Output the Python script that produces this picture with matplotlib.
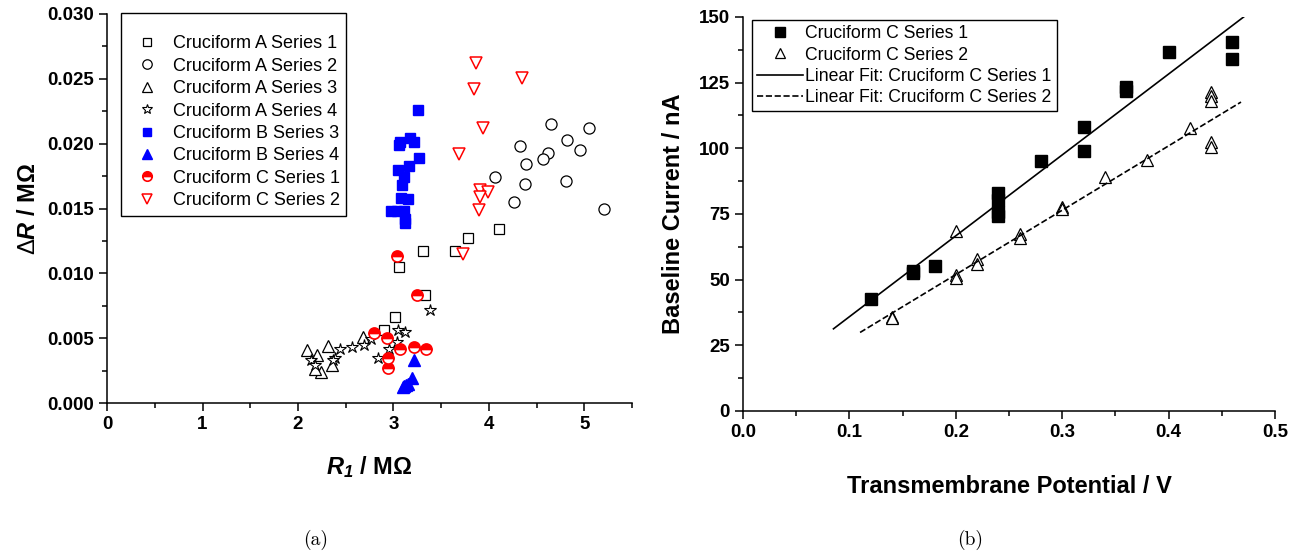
import matplotlib
matplotlib.use("Agg")
import matplotlib.pyplot as plt
from matplotlib.ticker import MultipleLocator, FormatStrFormatter
import numpy as np

plt.rcParams.update({
    "font.family": "Liberation Sans",
    "mathtext.fontset": "custom",
    "mathtext.rm": "Liberation Sans",
    "mathtext.it": "Liberation Sans:italic:bold",
    "mathtext.bf": "Liberation Sans:italic:bold",
    "axes.linewidth": 1.1,
})

# ---- panel (a): delta R vs R1 ----
a_s1_x = [3.31, 3.64, 3.78, 4.10, 3.06, 3.33, 3.02, 2.90]
a_s1_y = [0.0117, 0.0117, 0.0127, 0.0134, 0.0105, 0.0083, 0.0066, 0.0056]

a_s2_x = [4.65, 5.05, 4.82, 4.95, 4.32, 4.62, 4.57, 4.39, 4.06, 4.38, 4.81, 4.26, 5.20]
a_s2_y = [0.0215, 0.0212, 0.0203, 0.0195, 0.0198, 0.0193, 0.0188, 0.0184,
          0.0174, 0.0169, 0.0171, 0.0155, 0.0150]

a_s3_x = [2.09, 2.20, 2.31, 2.68, 2.36, 2.24, 2.18]
a_s3_y = [0.0041, 0.0037, 0.0044, 0.0051, 0.0029, 0.0024, 0.0026]

a_s4_x = [2.14, 2.18, 2.39, 2.44, 2.57, 2.69, 2.76, 2.84, 2.95, 3.04, 3.05, 3.12, 3.38, 2.37]
a_s4_y = [0.0033, 0.0029, 0.0035, 0.0042, 0.0043, 0.0045, 0.0049, 0.0035,
          0.0042, 0.0047, 0.0056, 0.0055, 0.0072, 0.0033]

b_s3_x = [3.26, 3.06, 3.07, 3.17, 3.21, 3.27, 3.16, 3.05, 3.11, 3.09, 3.08, 3.15,
          2.97, 3.04, 3.11, 3.12, 3.12]
b_s3_y = [0.0226, 0.0199, 0.0201, 0.0204, 0.0201, 0.0189, 0.0183, 0.0180, 0.0174,
          0.0168, 0.0158, 0.0157, 0.0148, 0.0148, 0.0148, 0.0142, 0.0139]

b_s4_x = [3.21, 3.19, 3.15, 3.11, 3.10, 3.13]
b_s4_y = [0.0033, 0.0019, 0.0015, 0.0013, 0.0012, 0.0014]

c_s1_x = [3.04, 3.25, 2.80, 2.93, 3.07, 3.22, 3.34, 2.94, 2.94]
c_s1_y = [0.0113, 0.0083, 0.0054, 0.0050, 0.0042, 0.0043, 0.0042, 0.0035, 0.0027]

c_s2_x = [3.86, 4.35, 3.84, 3.94, 3.69, 3.91, 3.99, 3.91, 3.90, 3.73]
c_s2_y = [0.0262, 0.0251, 0.0242, 0.0212, 0.0192, 0.0164, 0.0163, 0.0159, 0.0149, 0.0115]

# ---- panel (b): baseline current vs potential ----
cur1_v = [0.12, 0.16, 0.16, 0.18, 0.24, 0.24, 0.24, 0.24, 0.28, 0.32, 0.32,
          0.36, 0.36, 0.40, 0.46, 0.46]
cur1_i = [42.7, 52.6, 53.2, 55.2, 83.0, 80.5, 74.4, 75.6, 95.1, 108.3, 98.9,
          123.4, 122.0, 136.6, 140.4, 134.0]

cur2_v = [0.14, 0.14, 0.20, 0.20, 0.20, 0.22, 0.22, 0.26, 0.26, 0.30, 0.30,
          0.34, 0.38, 0.42, 0.44, 0.44, 0.44, 0.44, 0.44]
cur2_i = [35.9, 35.4, 68.7, 51.9, 50.6, 57.7, 56.0, 67.5, 65.8, 77.6, 77.0,
          89.0, 95.7, 107.8, 121.5, 119.8, 118.2, 102.5, 100.5]

# linear fits (slope, intercept, x range)
fit1 = (308.0, 5.1, 0.085, 0.475)
fit2 = (245.0, 2.95, 0.11, 0.468)

fig = plt.figure(figsize=(13.13, 5.59), dpi=100)
ax1 = fig.add_axes([0.0815, 0.279, 0.400, 0.696])
ax2 = fig.add_axes([0.5659, 0.2648, 0.4052, 0.7048])

ms = 7.5
ax1.plot(a_s1_x, a_s1_y, ls="none", marker="s", ms=ms, mfc="white", mec="black", mew=0.9,
         label="Cruciform A Series 1")
ax1.plot(a_s2_x, a_s2_y, ls="none", marker="o", ms=ms + 0.5, mfc="white", mec="black", mew=0.9,
         label="Cruciform A Series 2")
ax1.plot(a_s3_x, a_s3_y, ls="none", marker="^", ms=ms + 1, mfc="white", mec="black", mew=0.9,
         label="Cruciform A Series 3")
ax1.plot(a_s4_x, a_s4_y, ls="none", marker="*", ms=ms + 1.5, mfc="white", mec="black", mew=0.8,
         label="Cruciform A Series 4")
ax1.plot(b_s3_x, b_s3_y, ls="none", marker="s", ms=ms, mfc="blue", mec="blue",
         label="Cruciform B Series 3")
ax1.plot(b_s4_x, b_s4_y, ls="none", marker="^", ms=ms + 1, mfc="blue", mec="blue",
         label="Cruciform B Series 4")
ax1.plot(c_s1_x, c_s1_y, ls="none", marker="o", ms=ms + 0.5, fillstyle="top", mfc="red",
         mfcalt="white", mec="red", mew=1.2, label="Cruciform C Series 1")
ax1.plot(c_s2_x, c_s2_y, ls="none", marker="v", ms=ms + 1, mfc="white", mec="red", mew=1.1,
         label="Cruciform C Series 2")

ax1.set_xlim(0, 5.5)
ax1.set_ylim(0, 0.030)
ax1.xaxis.set_major_locator(MultipleLocator(1))
ax1.xaxis.set_minor_locator(MultipleLocator(0.5))
ax1.yaxis.set_major_locator(MultipleLocator(0.005))
ax1.yaxis.set_minor_locator(MultipleLocator(0.0025))
ax1.yaxis.set_major_formatter(FormatStrFormatter("%.3f"))
ax1.set_xlabel(r"$\mathbf{R}_{\mathbf{1}}$ / MΩ", fontsize=17, fontweight="bold", labelpad=15)
ax1.set_ylabel(r"$\mathrm{\Delta}\mathbf{R}$ / MΩ", fontsize=17, fontweight="bold", labelpad=5)
leg1 = ax1.legend(loc="upper left", bbox_to_anchor=(0.026, 1.002), borderaxespad=0,
                  fontsize=13, frameon=True, fancybox=False, edgecolor="black", framealpha=1,
                  handletextpad=0.37, labelspacing=0.3, borderpad=0.37, handlelength=2.14,
                  markerscale=0.85, title=" ", title_fontsize=7)

ax2.plot(cur1_v, cur1_i, ls="none", marker="s", ms=8, mfc="black", mec="black",
         label="Cruciform C Series 1")
ax2.plot(cur2_v, cur2_i, ls="none", marker="^", ms=9, mfc="white", mec="black", mew=0.9,
         label="Cruciform C Series 2")
for (k, b, x0, x1), sty, name in [(fit1, "-", "Linear Fit: Cruciform C Series 1"),
                                  (fit2, "--", "Linear Fit: Cruciform C Series 2")]:
    xs = np.array([x0, x1])
    ax2.plot(xs, k * xs + b, color="black", ls=sty, lw=1.2, label=name)
ax2.set_xlim(0, 0.5)
ax2.set_ylim(0, 150)
ax2.xaxis.set_major_locator(MultipleLocator(0.1))
ax2.xaxis.set_minor_locator(MultipleLocator(0.05))
ax2.yaxis.set_major_locator(MultipleLocator(25))
ax2.yaxis.set_minor_locator(MultipleLocator(12.5))
ax2.xaxis.set_major_formatter(FormatStrFormatter("%.1f"))
ax2.set_xlabel("Transmembrane Potential / V", fontsize=17, fontweight="bold", labelpad=24)
ax2.set_ylabel("Baseline Current / nA", fontsize=17, fontweight="bold", labelpad=10)
leg2 = ax2.legend(loc="upper left", bbox_to_anchor=(0.017, 0.992), borderaxespad=0,
                  fontsize=12.7, frameon=True, fancybox=False, edgecolor="black", framealpha=1,
                  handletextpad=0.12, labelspacing=0.24, borderpad=0.3, handlelength=2.6,
                  markerscale=0.85)

for ax in (ax1, ax2):
    ax.spines["top"].set_visible(False)
    ax.spines["right"].set_visible(False)
    ax.tick_params(which="major", direction="out", length=6, width=1.1, labelsize=13.5)
    ax.tick_params(which="minor", direction="out", length=3.5, width=1.1)
    for lbl in ax.get_xticklabels() + ax.get_yticklabels():
        lbl.set_fontweight("bold")
for leg in (leg1, leg2):
    leg.get_frame().set_linewidth(1.0)

fig.text(0.2407, 0.034, "(a)", family="cmr10", fontsize=14, ha="center", va="center")
fig.text(0.7388, 0.034, "(b)", family="cmr10", fontsize=14, ha="center", va="center")

fig.savefig("out.png", dpi=100)
